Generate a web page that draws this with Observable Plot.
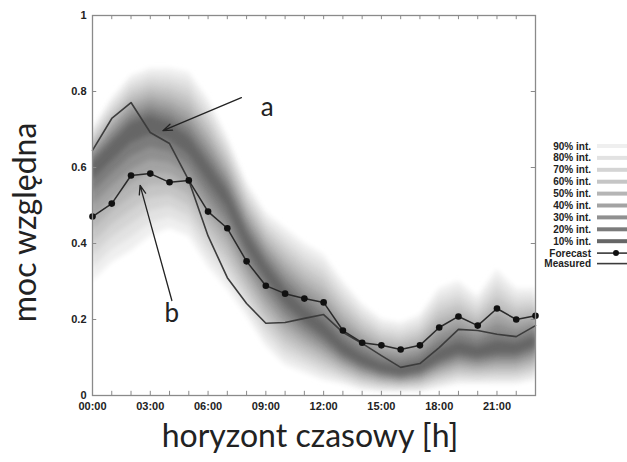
<!DOCTYPE html>
<html><head><meta charset="utf-8">
<script src="https://cdn.jsdelivr.net/npm/d3@7"></script>
<script src="https://cdn.jsdelivr.net/npm/@observablehq/plot@0.6"></script>
<style>body{margin:0;background:#fff} svg{display:block}</style>
</head><body><div id="chart"></div>
<script>
const hours = [0,1,2,3,4,5,6,7,8,9,10,11,12,13,14,15,16,17,18,19,20,21,22,23];
const forecast = [0.471,0.505,0.579,0.584,0.561,0.566,0.484,0.44,0.353,0.289,0.268,0.255,0.245,0.171,0.139,0.132,0.121,0.132,0.179,0.208,0.184,0.229,0.2,0.21];
const measured = [0.645,0.729,0.771,0.692,0.663,0.566,0.42,0.31,0.242,0.19,0.192,0.203,0.213,0.166,0.137,0.105,0.074,0.084,0.126,0.174,0.171,0.161,0.155,0.184];
// fan: darkest centre and outer (90%) interval limits
const fanCenter = [0.6,0.65,0.7,0.72,0.7,0.66,0.59,0.52,0.41,0.33,0.26,0.21,0.17,0.12,0.09,0.07,0.06,0.07,0.1,0.12,0.11,0.12,0.12,0.14];
const fanHi90 = [0.70,0.78,0.84,0.86,0.86,0.85,0.78,0.68,0.56,0.48,0.44,0.40,0.37,0.3,0.24,0.2,0.19,0.21,0.28,0.3,0.26,0.33,0.28,0.28];
const fanLo90 = [0.3,0.35,0.38,0.42,0.44,0.42,0.34,0.28,0.21,0.13,0.08,0.06,0.04,0.03,0.015,0.01,0.01,0.01,0.02,0.03,0.03,0.03,0.03,0.04];
const bandLevels = [90,80,70,60,50,40,30,20,10];
const bandColors = ["#efefef","#e2e2e2","#d4d4d4","#c5c5c5","#b5b5b5","#a3a3a3","#909090","#7b7b7b","#666666"];
const legendLabels = ["90% int.","80% int.","70% int.","60% int.","50% int.","40% int.","30% int.","20% int.","10% int."];
const xTickHours = [0,3,6,9,12,15,18,21];
const yTicks = [0,0.2,0.4,0.6,0.8,1];
const xLabel = "horyzont czasowy [h]";
const yLabel = "moc względna";
const arrows = [
  {x1: 7.73, y1: 0.784, x2: 3.66, y2: 0.697},
  {x1: 4.12, y1: 0.25, x2: 2.47, y2: 0.553}
];
const notes = [{x: 9.07, y: 0.757, t: "a"}, {x: 4.12, y: 0.215, t: "b"}];

const fRows = hours.map((h, i) => ({h, v: forecast[i]}));
const mRows = hours.map((h, i) => ({h, v: measured[i]}));
const bands = bandLevels.map((lvl, k) => ({
  color: bandColors[k],
  rows: hours.map((h, i) => {
    const f = lvl / 90;
    return {h, lo: fanCenter[i] - (fanCenter[i] - fanLo90[i]) * f, hi: fanCenter[i] + (fanHi90[i] - fanCenter[i]) * f};
  })
}));

const chart = Plot.plot({
  width: 627, height: 462,
  marginLeft: 92, marginRight: 92, marginTop: 15, marginBottom: 67,
  x: {domain: [0, 23]},
  y: {domain: [0, 1]},
  style: {fontFamily: "Liberation Sans", background: "white", color: "#222"},
  marks: [
    ...bands.map(b => Plot.areaY(b.rows, {x: "h", y1: "lo", y2: "hi", fill: b.color, clip: true})),
    Plot.line(mRows, {x: "h", y: "v", stroke: "#3c3c3c", strokeWidth: 1.6}),
    Plot.line(fRows, {x: "h", y: "v", stroke: "#2a2a2a", strokeWidth: 1.5}),
    Plot.dot(fRows, {x: "h", y: "v", r: 3.3, fill: "#111"}),
    Plot.frame({stroke: "#8a8a8a", strokeWidth: 1.3}),
    Plot.ruleX(hours, {x: d => d, y1: 0, y2: 0.011, stroke: "#8a8a8a"}),
    Plot.ruleX(hours, {x: d => d, y1: 1, y2: 0.989, stroke: "#8a8a8a"}),
    Plot.ruleY(yTicks, {y: d => d, x1: 0, x2: 0.22, stroke: "#8a8a8a"}),
    Plot.ruleY(yTicks, {y: d => d, x1: 23, x2: 22.78, stroke: "#8a8a8a"}),
    Plot.axisX({ticks: xTickHours, tickFormat: h => String(h).padStart(2, "0") + ":00", tickSize: 0, tickPadding: 7, fontSize: 11, fontWeight: "bold", label: null}),
    Plot.axisY({ticks: yTicks, tickFormat: d => (d === 0 || d === 1) ? String(d) : d.toFixed(1), tickSize: 0, tickPadding: 6, fontSize: 11, fontWeight: "bold", label: null}),
    Plot.arrow(arrows, {x1: "x1", y1: "y1", x2: "x2", y2: "y2", stroke: "#222", strokeWidth: 1.3, headLength: 11, headAngle: 40}),
    Plot.text(notes, {x: "x", y: "y", text: "t", fontSize: 26, fontFamily: "Lato", fill: "#222"}),
    Plot.text([xLabel], {frameAnchor: "bottom", dy: 51, dx: -4, fontSize: 32, fontFamily: "Lato", fill: "#222"}),
    Plot.text([yLabel], {frameAnchor: "left", textAnchor: "middle", dx: -67, dy: 17, rotate: -90, fontSize: 32, fontFamily: "Lato", fill: "#222"})
  ]
});
document.getElementById("chart").appendChild(chart);

const svg = d3.select(chart);
const defs = svg.insert("defs", ":first-child");
defs.append("filter").attr("id", "fanblur").attr("x", "-5%").attr("y", "-10%").attr("width", "110%").attr("height", "120%")
  .append("feGaussianBlur").attr("stdDeviation", 2.6);
svg.selectAll('g[aria-label="area"]').attr("filter", "url(#fanblur)");

// legend (right of the plot frame)
const lg = svg.append("g").attr("font-family", "Liberation Sans").attr("font-size", 10).attr("font-weight", "bold").attr("fill", "#222");
const textX = 591, sw1 = 597, sw2 = 627, y0 = 146, step = 11.9;
legendLabels.forEach((lab, k) => {
  const y = y0 + k * step;
  lg.append("text").attr("x", textX).attr("y", y).attr("dy", "0.35em").attr("text-anchor", "end").text(lab);
  lg.append("line").attr("x1", sw1).attr("x2", sw2).attr("y1", y).attr("y2", y).attr("stroke", bandColors[k]).attr("stroke-width", 4);
});
const yF = y0 + 9 * step, yM = yF + 10.5;
lg.append("text").attr("x", textX).attr("y", yF).attr("dy", "0.35em").attr("text-anchor", "end").text("Forecast");
lg.append("line").attr("x1", sw1).attr("x2", sw2).attr("y1", yF).attr("y2", yF).attr("stroke", "#2a2a2a").attr("stroke-width", 1.5);
lg.append("circle").attr("cx", 616).attr("cy", yF).attr("r", 3).attr("fill", "#111");
lg.append("text").attr("x", textX).attr("y", yM).attr("dy", "0.35em").attr("text-anchor", "end").text("Measured");
lg.append("line").attr("x1", sw1).attr("x2", sw2).attr("y1", yM).attr("y2", yM).attr("stroke", "#3c3c3c").attr("stroke-width", 1.6);
</script></body></html>
